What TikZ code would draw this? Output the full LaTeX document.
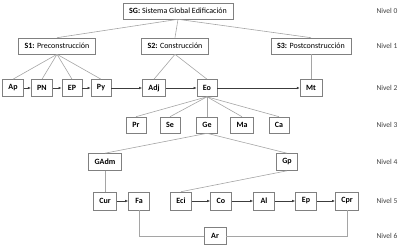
\documentclass[tikz,border=0pt]{standalone}
\usepackage{fontspec}
\setmainfont{Carlito}
\usepackage{xcolor}
\definecolor{boxgray}{RGB}{128,128,128}
\definecolor{treegray}{RGB}{165,165,165}
\definecolor{arrowgray}{RGB}{60,60,60}
\usetikzlibrary{arrows.meta,positioning}

\begin{document}
\begin{tikzpicture}[x=1pt,y=-1pt,
  box/.style={draw=boxgray,line width=0.6pt,fill=white,font=\fontsize{8}{9.5}\selectfont,
    minimum width=20pt,minimum height=17pt,inner xsep=6pt,inner ysep=2pt},
  tree/.style={treegray,line width=0.6pt},
  flow/.style={arrowgray,line width=0.6pt,-{Latex[length=3pt,width=2.6pt]}},
  nivel/.style={font=\fontsize{7.5}{9}\selectfont,text=black!75,anchor=west}]
  \useasboundingbox (0,0) rectangle (400,246);
  % level labels
  \foreach \k/\y in {0/11,1/46,2/88,3/125,4/162,5/201,6/236}{
    \node[nivel] (niv\k) at (373,\y) {Nivel \k};
  }
  % level 0 and 1
  \node[box,minimum height=16pt] (SG) at (178,11) {\textbf{SG:} Sistema Global Edificación};
  \node[box,minimum height=16pt] (S1) at (57,46) {\textbf{S1:} Preconstrucción};
  \node[box,minimum height=16pt] (S2) at (175,46) {\textbf{S2:} Construcción};
  \node[box,minimum height=16pt] (S3) at (311,46) {\textbf{S3:} Postconstrucción};
  % level 2
  \foreach \n/\x in {Ap/13,PN/42,EP/72,Py/101,Adj/154,Eo/207,Mt/311}{
    \node[box] (\n) at (\x,88) {\textbf{\n}};
  }
  % level 3
  \foreach \n/\x in {Pr/136,Se/170,Ge/207,Ma/242,Ca/279}{
    \node[box,minimum height=16pt] (\n) at (\x,125) {\textbf{\n}};
  }
  % level 4
  \node[box] (GAdm) at (105,162) {\textbf{GAdm}};
  \node[box] (Gp) at (287,162) {\textbf{Gp}};
  % level 5 and 6
  \foreach \n/\x in {Cur/105,Fa/139,Eci/181,Co/221,Al/264,Ep/306,Cpr/347}{
    \node[box,minimum width=21pt,minimum height=18pt] (\n) at (\x,201) {\textbf{\n}};
  }
  \node[box,minimum width=22pt] (Ar) at (215,236) {\textbf{Ar}};

  % tree links
  \foreach \c in {S1,S2,S3} \draw[tree] (SG.south) -- (\c.north);
  \foreach \c in {Ap,PN,EP,Py} \draw[tree] (S1.south) -- (\c.north);
  \foreach \c in {Adj,Eo} \draw[tree] (S2.south) -- (\c.north);
  \draw[tree] (S3) -- (Mt);
  \foreach \c in {Pr,Se,Ge,Ma,Ca} \draw[tree] (Eo.south) -- (\c.north);
  \foreach \c in {GAdm,Gp} \draw[tree] (Ge.south) -- (\c.north);
  \draw[tree] (GAdm) -- (Cur);
  \draw[tree] (Gp.south) -- (Eci.north);
  \draw[tree] (Fa.south) |- (Ar.west);
  \draw[tree] (Cpr.south) |- (Ar.east);

  % flow arrows
  \draw[flow] (Ap) -- (PN);
  \draw[flow] (PN) -- (EP);
  \draw[flow] (EP) -- (Py);
  \draw[flow] (Py) -- (Adj);
  \draw[flow] (Adj) -- (Eo);
  \draw[flow] (Eo) -- (Mt);
  \draw[flow] (Cur) -- (Fa);
  \draw[flow] (Eci) -- (Co);
  \draw[flow] (Co) -- (Al);
  \draw[flow] (Al) -- (Ep);
  \draw[flow] (Ep) -- (Cpr);
\end{tikzpicture}
\end{document}
